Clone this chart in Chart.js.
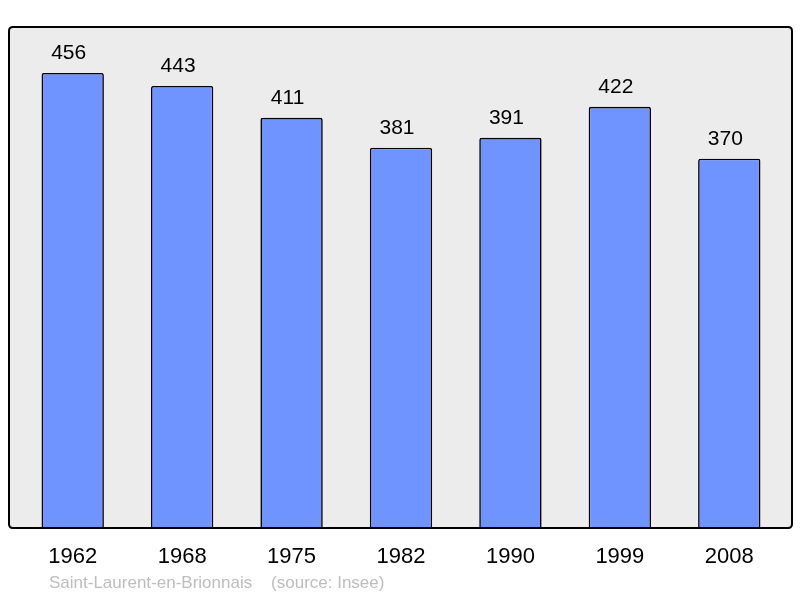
<!DOCTYPE html>
<html>
<head>
<meta charset="utf-8">
<script src="https://cdn.jsdelivr.net/npm/chart.js@4"></script>
<style>
  html, body { margin: 0; padding: 0; background: #ffffff; }
  #wrap { width: 800px; height: 598px; }
</style>
</head>
<body>
<div id="wrap"><canvas id="popChart" width="800" height="598"></canvas></div>
<script>
const years = ['1962', '1968', '1975', '1982', '1990', '1999', '2008'];
const population = [456, 443, 411, 381, 391, 422, 370];
const footerText = 'Saint-Laurent-en-Brionnais    (source: Insee)';

function roundRect(ctx, x, y, w, h, r) {
    ctx.beginPath();
    ctx.moveTo(x + r, y);
    ctx.lineTo(x + w - r, y);
    ctx.quadraticCurveTo(x + w, y, x + w, y + r);
    ctx.lineTo(x + w, y + h - r);
    ctx.quadraticCurveTo(x + w, y + h, x + w - r, y + h);
    ctx.lineTo(x + r, y + h);
    ctx.quadraticCurveTo(x, y + h, x, y + h - r);
    ctx.lineTo(x, y + r);
    ctx.quadraticCurveTo(x, y, x + r, y);
    ctx.closePath();
}

// grey panel, frame, value labels and footer
const framePlugin = {
    id: 'frame',
    beforeDatasetsDraw(chart) {
        const ctx = chart.ctx;
        ctx.save();
        roundRect(ctx, 9, 27, 783, 501, 4);
        ctx.fillStyle = '#ececec';
        ctx.fill();
        ctx.restore();
    },
    afterDatasetsDraw(chart) {
        const ctx = chart.ctx;
        ctx.save();
        roundRect(ctx, 9, 27, 783, 501, 4);
        ctx.lineWidth = 2;
        ctx.strokeStyle = '#000000';
        ctx.stroke();

        ctx.fillStyle = '#000000';
        ctx.font = '21px "Liberation Sans", Arial, sans-serif';
        ctx.textAlign = 'center';
        ctx.textBaseline = 'middle';
        chart.getDatasetMeta(0).data.forEach(function(bar, i) {
            ctx.fillText(String(population[i]), bar.x - 4, bar.y - 20);
        });

        ctx.fillStyle = '#bdbdbd';
        ctx.font = '17px "Liberation Sans", Arial, sans-serif';
        ctx.textAlign = 'left';
        ctx.fillText(footerText, 49, 583);
        ctx.restore();
    }
};

new Chart(document.getElementById('popChart'), {
    type: 'bar',
    data: {
        labels: years,
        datasets: [{
            data: population,
            backgroundColor: '#7094ff',
            borderColor: '#000000',
            borderWidth: 1.6,
            borderRadius: 2,
            barPercentage: 0.57,
            categoryPercentage: 1
        }]
    },
    options: {
        responsive: false,
        animation: false,
        layout: { padding: { left: 18, right: 16, top: 27, bottom: 0 } },
        plugins: {
            legend: { display: false },
            tooltip: { enabled: false }
        },
        scales: {
            x: {
                grid: { display: false, drawTicks: false },
                border: { display: false },
                ticks: {
                    color: '#000000',
                    font: { family: '"Liberation Sans", Arial, sans-serif', size: 22 },
                    padding: 16
                },
                afterFit: function(scale) { scale.height = 70; }
            },
            y: {
                display: false,
                min: 0,
                max: 502
            }
        }
    },
    plugins: [framePlugin]
});
</script>
</body>
</html>
